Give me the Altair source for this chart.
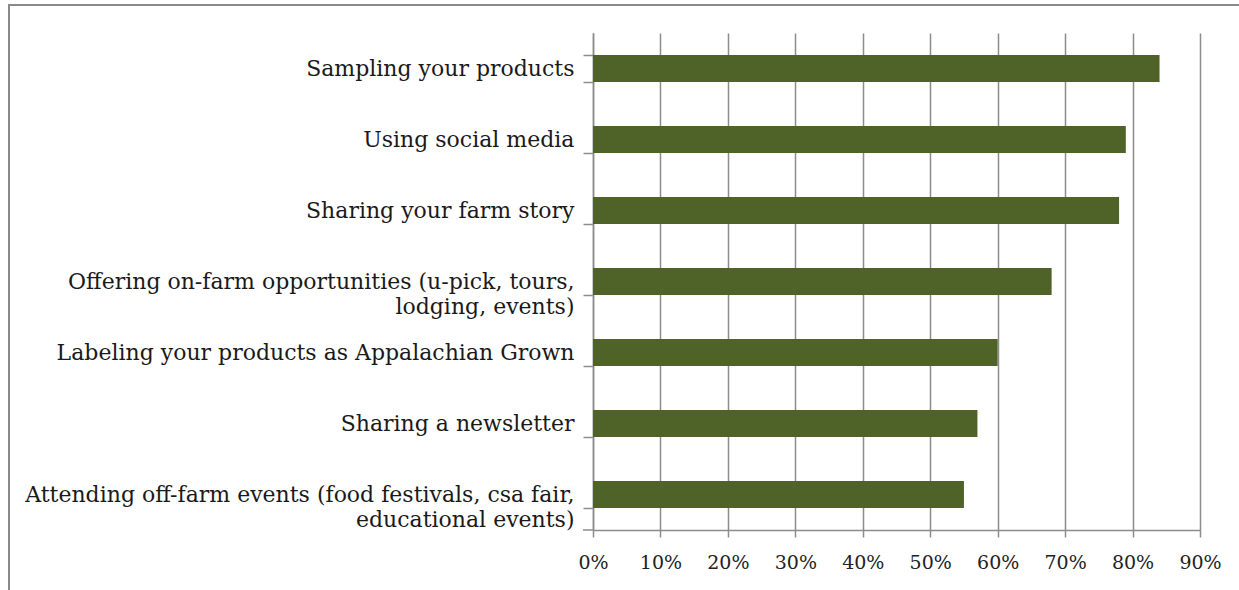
import altair as alt
import pandas as pd

categories = [
    "Sampling your products",
    "Using social media",
    "Sharing your farm story",
    "Offering on-farm opportunities (u-pick, tours,|lodging, events)",
    "Labeling your products as Appalachian Grown",
    "Sharing a newsletter",
    "Attending off-farm events (food festivals, csa fair,|educational events)",
]
values = [0.84, 0.79, 0.78, 0.68, 0.60, 0.57, 0.55]
x_ticks = [0, 0.1, 0.2, 0.3, 0.4, 0.5, 0.6, 0.7, 0.8, 0.9]

df = pd.DataFrame({"category": categories, "value": values})

GRID = "#8c8c8c"
FONT = "DejaVu Serif"
W, H = 607, 497

bars = alt.Chart(df).mark_bar(color="#4F6228").encode(
    x=alt.X(
        "value:Q",
        scale=alt.Scale(domain=[0, 0.9], nice=False),
        axis=alt.Axis(
            values=x_ticks,
            format=".0%",
            title=None,
            grid=True,
            gridColor=GRID,
            gridWidth=1.5,
            domainColor=GRID,
            domainWidth=1.5,
            tickColor=GRID,
            tickWidth=1.5,
            tickSize=7,
            labelFont=FONT,
            labelFontSize=19,
            labelColor="#222222",
            labelPadding=16,
            labelFlush=False,
            labelOverlap=False,
        ),
    ),
    y=alt.Y(
        "category:N",
        sort=categories,
        scale=alt.Scale(paddingInner=0.62, paddingOuter=0.31),
        axis=alt.Axis(
            title=None,
            tickBand="extent",
            tickSize=10,
            tickColor=GRID,
            tickWidth=1.5,
            domainColor=GRID,
            domainWidth=1.5,
            labelFont=FONT,
            labelFontSize=22,
            labelColor="#1a1a1a",
            labelPadding=9,
            labelLimit=0,
            labelLineHeight=25,
            labelExpr="split(datum.label, '|')",
        ),
    ),
)

one = alt.Data(values=[{"a": 1}])

axis_ext = alt.Chart(one).mark_rule(color=GRID, strokeWidth=1.5).encode(
    x=alt.value(-10), x2=alt.value(0), y=alt.value(H)
)

border = alt.Chart(one).mark_rect(
    fill=None, fillOpacity=0, stroke="#8a8a8a", strokeWidth=2
).encode(
    x=alt.value(9 - 593), x2=alt.value(1250 - 593), y=alt.value(5 - 33), y2=alt.value(640)
)

chart = (
    alt.layer(bars, axis_ext, border)
    .properties(
        width=W,
        height=H,
        autosize=alt.AutoSizeParams(type="none"),
        padding={"left": 593, "top": 33, "right": 39, "bottom": 60},
        background="white",
    )
    .configure_view(stroke=None)
)

chart.save("out.html", embed_options={"renderer": "svg", "actions": False})
